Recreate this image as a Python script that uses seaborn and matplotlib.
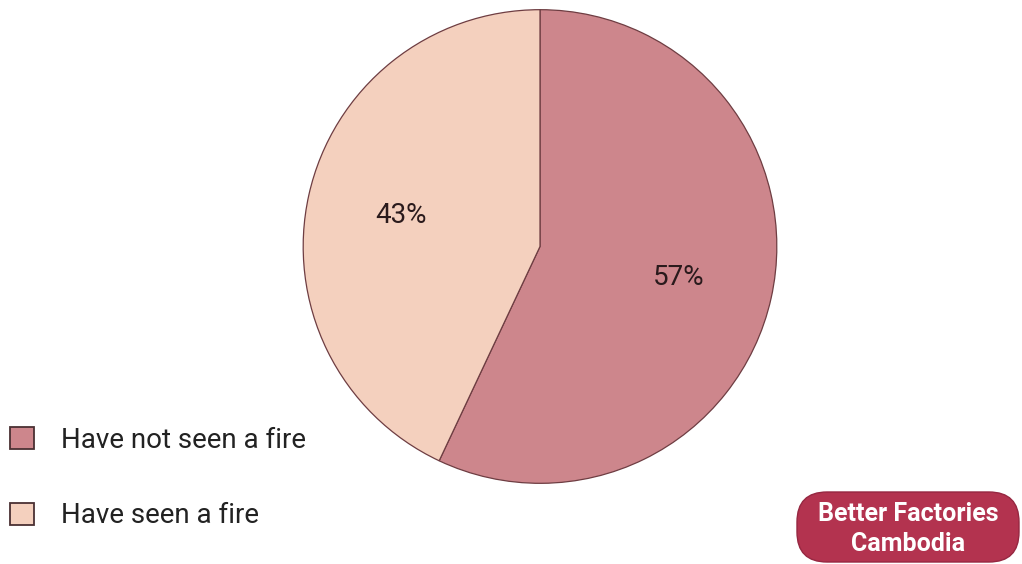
"""Pie chart: share of workers who have seen a fire at the workplace."""

import matplotlib.pyplot as plt
from matplotlib.patches import FancyBboxPatch, Patch
from matplotlib.transforms import IdentityTransform
import seaborn as sns

sns.set_theme(style="white")
plt.rcParams["font.family"] = ["Roboto", "DejaVu Sans"]

# Data
labels = ["Have not seen a fire", "Have seen a fire"]
shares = [57, 43]
colors = ["#cd868c", "#f4d0be"]
edge_color = "#6e3d42"

fig = plt.figure(figsize=(10.22, 5.64), dpi=100)
W, H = 1022, 564

# pie axes placed in pixel coords: circle spans x 302..778, y 8..485
ax = fig.add_axes([302 / W, (H - 485) / H, 476 / W, 477 / H])
wedges, texts, autotexts = ax.pie(
    shares,
    colors=colors,
    startangle=90,
    counterclock=False,
    autopct="%d%%",
    pctdistance=0.6,
    radius=1.0,
    wedgeprops=dict(edgecolor=edge_color, linewidth=0.9),
    textprops=dict(fontsize=20, color="#2a1a1c"),
)
ax.set_xlim(-1.005, 1.005)
ax.set_ylim(-1.005, 1.005)
ax.set_aspect("equal")
ax.axis("off")

handles = [
    Patch(facecolor=c, edgecolor="#4a3033", linewidth=1.3, label=l)
    for c, l in zip(colors, labels)
]
fig.legend(
    handles=handles,
    loc="center left",
    bbox_to_anchor=(10 / W, 1 - 478 / H),
    frameon=False,
    fontsize=20,
    borderpad=0,
    borderaxespad=0,
    handlelength=0.85,
    handleheight=0.85,
    handletextpad=1.0,
    labelspacing=1.75,
    labelcolor="#222222",
)

# "Better Factories Cambodia" badge
badge = FancyBboxPatch(
    (797, H - 562), 222, 70,
    boxstyle="round,pad=0,rounding_size=30",
    transform=IdentityTransform(),
    facecolor="#b3334f", edgecolor="#962741", linewidth=1,
)
fig.patches.append(badge)
fig.text(
    908 / W,
    1 - 529 / H,
    "Better Factories\nCambodia",
    ha="center",
    va="center",
    fontsize=18,
    fontweight="bold",
    color="white",
    linespacing=1.3,
)

fig.savefig("out.png", dpi=100, facecolor="white")
plt.close(fig)
